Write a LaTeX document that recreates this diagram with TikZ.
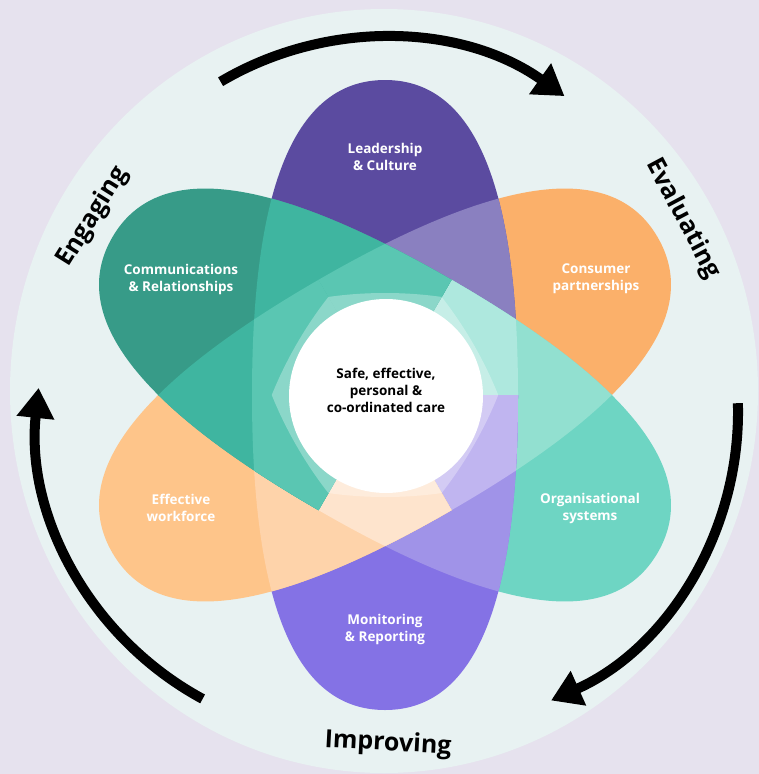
\documentclass[tikz,border=0pt]{standalone}
\usepackage{fontspec}
\setmainfont{Open Sans}
\usetikzlibrary{arrows.meta}
\definecolor{bgl}{RGB}{230,226,238}
\definecolor{ring}{RGB}{232,242,242}
\definecolor{cConsA}{RGB}{251,176,106}
\definecolor{cConsB}{RGB}{252,196,143}
\definecolor{cConsC}{RGB}{253,213,176}
\definecolor{cLeadA}{RGB}{91,75,160}
\definecolor{cLeadB}{RGB}{138,128,192}
\definecolor{cLeadC}{RGB}{172,164,210}
\definecolor{cOrgA}{RGB}{110,213,195}
\definecolor{cOrgB}{RGB}{146,224,208}
\definecolor{cOrgC}{RGB}{174,232,222}
\definecolor{cMonA}{RGB}{132,114,229}
\definecolor{cMonB}{RGB}{160,147,232}
\definecolor{cMonC}{RGB}{192,181,240}
\definecolor{cWorkA}{RGB}{254,197,138}
\definecolor{cWorkB}{RGB}{254,211,170}
\definecolor{cWorkC}{RGB}{254,228,205}
\definecolor{cCommA}{RGB}{55,155,136}
\definecolor{cCommB}{RGB}{63,181,160}
\definecolor{cCommC}{RGB}{90,198,178}
\tikzset{
  lbl/.style={text=white, font=\fontsize{13.5}{17}\selectfont\bfseries, align=center},
  ctr/.style={text=black, font=\fontsize{13.5}{17}\selectfont\bfseries, align=center},
  outer/.style={text=black, font=\fontsize{25}{30}\selectfont\bfseries},
  cyc/.style={line width=10pt, -{Triangle[length=30pt,width=36pt]}},
}
\def\vshape{(0,-315) .. controls (89.1,-315) and (133,-211) .. (133,0) .. controls (133,211) and (89.1,315) .. (0,315) .. controls (-89.1,315) and (-133,211) .. (-133,0) .. controls (-133,-211) and (-89.1,-315) .. (0,-315) -- cycle}
\def\tophalf{(-400,-400) rectangle (400,0)}
\def\bothalf{(-400,0) rectangle (400,400)}
\newcommand\petal[3]{\begin{scope}[shift={(385,395)},rotate=#1]\clip \vshape;\fill[fill=#3] #2;\end{scope}}
\newcommand\clipP[2]{\begin{scope}[shift={(385,395)},rotate=#1]\clip \vshape;\clip #2;\begin{scope}[rotate={-1*(#1)},shift={(-385,-395)}]}
\newcommand\unclip{\end{scope}\end{scope}}
\def\plist{-60/\tophalf/Cons,0/\tophalf/Lead,60/\bothalf/Org,0/\bothalf/Mon,-60/\bothalf/Work,60/\tophalf/Comm}
\begin{document}
\begin{tikzpicture}[x=1pt,y=-1pt]
\useasboundingbox (0,0) rectangle (759,774);
\fill[bgl] (0,0) rectangle (759,774);
\fill[ring] (384,391) ellipse [x radius=374, y radius=382];
% petals, bottom to top; each painted lighter where others overlap it
\foreach \ra/\ha/\na [count=\ia] in \plist {
  \petal{\ra}{\ha}{c\na A}
  \clipP{\ra}{\ha}
    \foreach \rb/\hb/\nb [count=\ib] in \plist {
      \ifnum\ib=\ia\else \petal{\rb}{\hb}{c\na B}\fi
    }
    \foreach \rb/\hb/\nb [count=\ib] in \plist {
      \ifnum\ib=\ia\else
        \clipP{\rb}{\hb}
        \foreach \rc/\hc/\nc [count=\ic] in \plist {
          \ifnum\ic>\ib \ifnum\ic=\ia\else \petal{\rc}{\hc}{c\na C}\fi\fi
        }
        \unclip
      \fi
    }
  \unclip
}
% light lens round the centre
\begin{scope}[shift={(385,395)}]
  \clip (0,0) ellipse [x radius=205, y radius=102];
  \clip[rotate=60] (0,0) ellipse [x radius=205, y radius=102];
  \clip[rotate=120] (0,0) ellipse [x radius=205, y radius=102];
  \fill[white, fill opacity=0.3] (-250,-250) rectangle (250,250);
\end{scope}
\fill[white] (386,396) circle[radius=97];
% labels
\node[lbl] (lead) at (385,157) {Leadership\\\& Culture};
\node[lbl] (comm) at (181,279) {Communications\\\& Relationships};
\node[lbl] (cons) at (596,279) {Consumer\\partnerships};
\node[lbl] (work) at (181,508) {Effective\\workforce};
\node[lbl] (orgs) at (590,508) {Organisational\\systems};
\node[lbl] (moni) at (385,629) {Monitoring\\\& Reporting};
\node[ctr] (core) at (386,390) {Safe, effective,\\personal \&\\co-ordinated care};
\node[outer, rotate=58] (eng) at (93,217) {Engaging};
\node[outer, rotate=-62] (eva) at (683,219) {Evaluating};
\node[outer, rotate=-3] (imp) at (388,744) {Improving};
% cycle arrows
\coordinate (topS) at (220.6,81.7);
\coordinate (rgtS) at (737.9,403.2);
\coordinate (lftS) at (202.6,698.9);
\draw[cyc] (topS) arc[start angle=120.6, end angle=54.6, radius=316pt];
\draw[cyc] (rgtS) arc[start angle=1.6, end angle=-65.9, radius=316pt];
\draw[cyc] (lftS) arc[start angle=241.6, end angle=174, radius=316pt];
\end{tikzpicture}
\end{document}
